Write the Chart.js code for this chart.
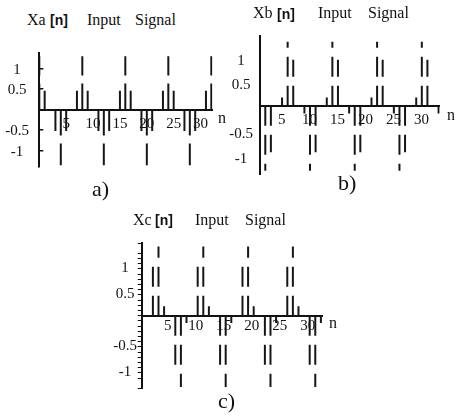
<!DOCTYPE html>
<html>
<head>
<meta charset="utf-8">
<script src="https://cdn.jsdelivr.net/npm/chart.js@4.4.1/dist/chart.umd.min.js"></script>
<style>
    html, body { margin: 0; padding: 0; background: #fff; }
    body { width: 456px; height: 418px; position: relative; overflow: hidden; color: #111;
           font-family: "Liberation Serif", "Times New Roman", serif; }
    canvas { position: absolute; }
    .t { position: absolute; font-size: 16px; line-height: 16px; white-space: nowrap; }
    .br { position: absolute; font-family: "Liberation Sans", Arial, sans-serif; font-weight: bold;
          font-size: 14px; line-height: 14px; white-space: nowrap; }
    .cap { position: absolute; font-size: 22px; line-height: 22px; }
</style>
</head>
<body>
<canvas id="graficoA" width="235" height="160" style="left:0;top:30px"></canvas>
<canvas id="graficoB" width="228" height="170" style="left:228px;top:20px"></canvas>
<canvas id="graficoC" width="240" height="170" style="left:100px;top:230px"></canvas>

<div class="t" style="left:27px;top:11.6px">Xa</div>
<div class="br" style="left:50px;top:13px">[n]</div>
<div class="t" style="left:87px;top:11.6px">Input</div>
<div class="t" style="left:135px;top:11.6px">Signal</div>
<div class="t" style="left:218px;top:109.6px">n</div>
<div class="cap" style="left:92px;top:178px">a)</div>

<div class="t" style="left:253px;top:5px">Xb</div>
<div class="br" style="left:277px;top:6.5px">[n]</div>
<div class="t" style="left:318px;top:5px">Input</div>
<div class="t" style="left:368px;top:5px">Signal</div>
<div class="t" style="left:447px;top:106.6px">n</div>
<div class="cap" style="left:338px;top:172px">b)</div>

<div class="t" style="left:133px;top:211.6px">Xc</div>
<div class="br" style="left:155px;top:213px">[n]</div>
<div class="t" style="left:195px;top:211.6px">Input</div>
<div class="t" style="left:245px;top:211.6px">Signal</div>
<div class="t" style="left:329px;top:314.6px">n</div>
<div class="cap" style="left:218px;top:390px">c)</div>

<script>
const amostras = [0, 1, 2, 3, 4, 5, 6, 7, 8, 9, 10, 11, 12, 13, 14, 15, 16,
    17, 18, 19, 20, 21, 22, 23, 24, 25, 26, 27, 28, 29, 30, 31, 32];

const sinalA = [1.3, 0.46, 0, -0.52, -1.36, -0.52, 0, 0.46,
    1.3, 0.46, 0, -0.52, -1.36, -0.52, 0, 0.46,
    1.3, 0.46, 0, -0.52, -1.36, -0.52, 0, 0.46,
    1.3, 0.46, 0, -0.52, -1.36, -0.52, 0, 0.46,
    1.3];

const sinalB = [-0.16, -1.33, -0.95, 0, 0.17, 1.31, 0.94, 0,
    -0.16, -1.33, -0.95, 0, 0.17, 1.31, 0.94, 0,
    -0.16, -1.33, -0.95, 0, 0.17, 1.31, 0.94, 0,
    -0.16, -1.33, -0.95, 0, 0.17, 1.31, 0.94, 0,
    -0.16];

const sinalC = [-0.14, 0, 0.97, 1.33, 0.18, 0, -0.98, -1.37,
    -0.14, 0, 0.97, 1.33, 0.18, 0, -0.98, -1.37,
    -0.14, 0, 0.97, 1.33, 0.18, 0, -0.98, -1.37,
    -0.14, 0, 0.97, 1.33, 0.18, 0, -0.98, -1.37,
    -0.14];

const rotulosX = [5, 10, 15, 20, 25, 30];
const rotulosY = [-1, -0.5, 0.5, 1];

const fonteTicks = { family: "'Liberation Serif', 'Times New Roman', serif", size: 15 };

function hastes(valores) {
    const pontos = [];
    valores.forEach((valor, i) => {
        pontos.push({ x: amostras[i], y: 0 }, { x: amostras[i], y: valor }, { x: amostras[i], y: null });
    });
    return pontos;
}

function rotuloY(valor) {
    const achado = rotulosY.find(r => Math.abs(r - valor) < 1e-6);
    return achado === undefined ? "" : String(achado);
}

function criarGrafico(id, valores, cfg) {
    const canvas = document.getElementById(id);
    return new Chart(canvas.getContext("2d"), {
        type: "line",
        data: {
            datasets: [{
                data: hastes(valores),
                borderColor: "#161616",
                borderWidth: 2,
                borderDash: cfg.traco,
                pointRadius: 0,
                spanGaps: false,
                tension: 0,
                fill: false
            }]
        },
        options: {
            responsive: false,
            animation: false,
            devicePixelRatio: 1,
            events: [],
            layout: { padding: { left: 0, top: cfg.topo, right: cfg.direita, bottom: cfg.base } },
            plugins: { legend: { display: false }, tooltip: { enabled: false } },
            scales: {
                x: {
                    type: "linear",
                    min: 0,
                    max: 32.2,
                    position: { y: 0 },
                    grid: { display: false, drawTicks: false },
                    border: { color: "#111", width: 2 },
                    afterBuildTicks: escala => { escala.ticks = rotulosX.map(v => ({ value: v })); },
                    ticks: {
                        autoSkip: false,
                        maxRotation: 0,
                        padding: cfg.padX,
                        labelOffset: cfg.desvioX,
                        color: "#111",
                        font: fonteTicks
                    }
                },
                y: {
                    type: "linear",
                    min: cfg.yMin,
                    max: cfg.yMax,
                    position: "left",
                    afterFit: escala => { escala.width = cfg.larguraY; },
                    afterBuildTicks: cfg.marcasMenores ? undefined
                        : escala => { escala.ticks = rotulosY.map(v => ({ value: v })); },
                    grid: cfg.grade,
                    border: { color: "#111", width: 2 },
                    ticks: {
                        stepSize: 0.1,
                        autoSkip: false,
                        crossAlign: "center",
                        padding: cfg.padY,
                        labelOffset: cfg.desvioY,
                        color: "#111",
                        font: fonteTicks,
                        callback: rotuloY
                    }
                }
            }
        }
    });
}

criarGrafico("graficoA", sinalA, {
    traco: [26, 8], topo: 12, direita: 22.6, base: 10,
    yMin: -1.39, yMax: 1.37, larguraY: 39.3,
    padX: 5.5, desvioX: 0, padY: 14.4, desvioY: 1,
    marcasMenores: false,
    grade: { display: true, drawOnChartArea: false, drawTicks: true, tickLength: -4, color: "#111", lineWidth: 1.5 }
});

criarGrafico("graficoB", sinalB, {
    traco: [20, 9], topo: 13, direita: 16.3, base: 10,
    yMin: -1.398, yMax: 1.429, larguraY: 31.7,
    padX: 5.7, desvioX: -6, padY: 6.8, desvioY: 4,
    marcasMenores: false,
    grade: { display: false, drawTicks: false }
});

criarGrafico("graficoC", sinalC, {
    traco: [20, 9], topo: 13.3, direita: 18, base: 11.7,
    yMin: -1.396, yMax: 1.392, larguraY: 41.7,
    padX: 1, desvioX: -2, padY: 0.8, desvioY: 4.3,
    marcasMenores: true,
    grade: { display: true, drawOnChartArea: false, drawTicks: true, tickLength: 4, color: "#111", lineWidth: 1 }
});
</script>
</body>
</html>
